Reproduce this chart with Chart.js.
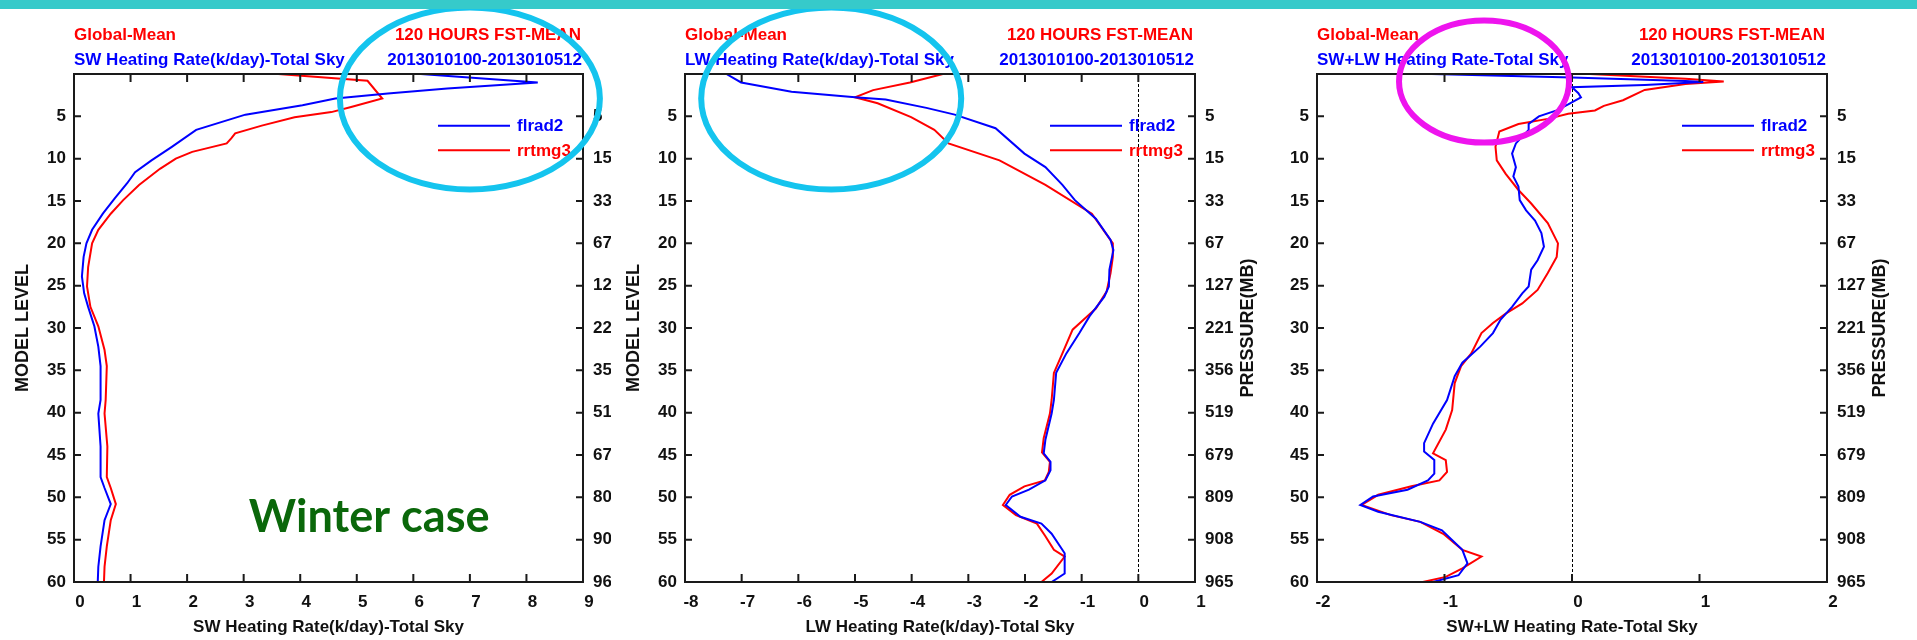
<!DOCTYPE html>
<html>
<head>
<meta charset="utf-8">
<script src="https://cdn.jsdelivr.net/npm/chart.js@4.4.0/dist/chart.umd.min.js"></script>
<style>
  html, body { margin: 0; padding: 0; background: #fff; }
  body { width: 1917px; height: 640px; position: relative; overflow: hidden; }
  canvas { position: absolute; top: 0; background: #fff; }
  #bar { position: absolute; left: 0; top: 0; width: 1917px; height: 9px; background: #36caca; z-index: 5; }
</style>
</head>
<body>
<div id="bar"></div>
<canvas id="sw" width="611" height="640" style="left:0px"></canvas>
<canvas id="lw" width="646" height="640" style="left:611px"></canvas>
<canvas id="net" width="660" height="640" style="left:1257px"></canvas>
<script>
// model levels shown on the left axis and the matching pressure (mb) on the right axis
const levelTicks = [5, 10, 15, 20, 25, 30, 35, 40, 45, 50, 55, 60];
const pressureLabels = ['5', '15', '33', '67', '127', '221', '356', '519', '679', '809', '908', '965'];

// SW heating rate (K/day)
const swFlrad2Lev = [0, 1.0, 1.7, 2.3, 2.9, 3.7, 4.8, 6.6, 8.6, 10.2, 11.6, 12.9, 14.7, 16.5, 18.4, 20.0, 21.6, 23.9, 25.9, 27.5, 29.8, 32.2, 34.5, 38.5, 40.1, 44.0, 47.6, 48.9, 50.8, 52.7, 55.8, 58.2, 60];
const swFlrad2 = [6.13, 8.2, 6.6, 5.55, 4.62, 4.04, 3.03, 2.16, 1.73, 1.37, 1.08, 0.94, 0.72, 0.51, 0.32, 0.22, 0.17, 0.14, 0.18, 0.25, 0.36, 0.43, 0.47, 0.47, 0.43, 0.47, 0.47, 0.54, 0.65, 0.54, 0.47, 0.43, 0.42];
const swRrtmg3Lev = [0, 0.8, 2.9, 3.9, 4.5, 5.1, 6.1, 7.0, 7.6, 8.2, 9.2, 10.0, 11.2, 13.1, 14.9, 16.5, 18.4, 20.0, 22.8, 25.1, 27.5, 29.8, 32.6, 34.5, 38.5, 40.1, 44.0, 47.6, 48.9, 50.8, 52.7, 55.8, 58.2, 60];
const swRrtmg3 = [3.61, 5.19, 5.45, 4.9, 4.55, 3.9, 3.32, 2.85, 2.78, 2.7, 2.09, 1.8, 1.52, 1.15, 0.87, 0.65, 0.43, 0.32, 0.25, 0.23, 0.29, 0.43, 0.54, 0.58, 0.56, 0.54, 0.59, 0.58, 0.65, 0.74, 0.65, 0.58, 0.54, 0.53];

// LW heating rate (K/day)
const lwFlrad2Lev = [0, 1.0, 2.1, 2.75, 3.0, 4.0, 4.8, 6.4, 9.4, 11.0, 13.1, 14.9, 17.1, 19.6, 20.8, 23.1, 25.1, 26.3, 28.6, 30.6, 33.0, 35.3, 38.5, 40.1, 43.2, 44.8, 45.8, 46.8, 48.0, 49.1, 49.9, 50.9, 52.3, 53.1, 54.3, 56.6, 59.0, 60];
const lwFlrad2 = [-7.27, -7.01, -6.12, -5.0, -4.46, -3.74, -3.24, -2.52, -2.01, -1.64, -1.34, -1.12, -0.75, -0.49, -0.44, -0.51, -0.52, -0.6, -0.86, -1.04, -1.27, -1.45, -1.49, -1.53, -1.64, -1.67, -1.55, -1.55, -1.64, -1.93, -2.23, -2.34, -2.08, -1.71, -1.53, -1.30, -1.30, -1.53];
const lwRrtmg3Lev = [0, 1.0, 1.9, 2.75, 3.45, 5.1, 6.6, 8.2, 10.2, 13.1, 16.5, 20.0, 21.6, 23.5, 25.7, 27.7, 28.6, 30.2, 33.0, 35.3, 38.5, 40.1, 43.0, 44.7, 45.8, 47.0, 48.0, 48.7, 49.7, 50.9, 52.1, 53.1, 54.6, 56.2, 57.0, 59.0, 60];
const lwRrtmg3 = [-3.45, -4.03, -4.68, -5.0, -4.6, -4.01, -3.6, -3.35, -2.45, -1.64, -0.82, -0.45, -0.45, -0.49, -0.56, -0.75, -0.9, -1.16, -1.34, -1.49, -1.53, -1.56, -1.67, -1.70, -1.56, -1.58, -1.65, -2.01, -2.27, -2.39, -2.16, -1.79, -1.64, -1.49, -1.30, -1.53, -1.71];

// SW+LW heating rate
const netFlrad2Lev = [0, 0.4, 0.82, 0.94, 1.29, 1.57, 2.27, 2.75, 3.6, 4.3, 5.0, 5.9, 6.6, 7.4, 8.2, 9.4, 11.0, 12.1, 13.3, 14.9, 16.1, 17.3, 18.8, 20.4, 22.0, 23.1, 25.1, 25.9, 27.5, 29.0, 30.6, 32.2, 34.1, 35.7, 38.5, 41.3, 43.6, 44.6, 45.6, 47.2, 48.0, 49.1, 49.9, 50.9, 51.7, 52.9, 53.9, 56.2, 57.8, 59.2, 60];
const netFlrad2 = [-1.10, 0.0, 0.89, 1.03, 0.57, 0.0, 0.05, 0.07, -0.03, -0.12, -0.26, -0.34, -0.34, -0.39, -0.44, -0.47, -0.44, -0.46, -0.42, -0.41, -0.36, -0.29, -0.24, -0.22, -0.27, -0.32, -0.34, -0.39, -0.47, -0.56, -0.62, -0.72, -0.86, -0.92, -0.98, -1.09, -1.16, -1.16, -1.08, -1.08, -1.13, -1.29, -1.56, -1.66, -1.52, -1.19, -1.02, -0.86, -0.82, -0.89, -1.09];
const netRrtmg3Lev = [0, 0.55, 0.9, 1.18, 1.88, 3.1, 3.76, 4.3, 4.7, 5.3, 5.9, 6.8, 8.6, 10.2, 11.8, 13.7, 15.3, 17.6, 20.0, 21.6, 23.5, 25.5, 27.1, 28.3, 29.4, 30.6, 33.0, 34.5, 36.5, 39.7, 42.0, 44.8, 45.6, 47.0, 48.0, 48.7, 49.7, 50.9, 52.1, 52.9, 54.3, 56.2, 57.0, 58.4, 59.4, 60];
const netRrtmg3 = [0.14, 0.89, 1.19, 0.89, 0.57, 0.40, 0.25, 0.18, -0.03, -0.19, -0.42, -0.57, -0.60, -0.59, -0.52, -0.42, -0.32, -0.19, -0.11, -0.12, -0.19, -0.27, -0.39, -0.52, -0.62, -0.71, -0.79, -0.87, -0.92, -0.94, -0.99, -1.09, -0.99, -0.98, -1.04, -1.26, -1.52, -1.65, -1.42, -1.19, -1.01, -0.86, -0.71, -0.86, -0.99, -1.17];

const seriesNames = ['flrad2', 'rrtmg3'];
const legendLevels = [6.1, 9.0];

const FONT = '"Liberation Sans", Arial, Helvetica, sans-serif';
const BLUE = '#0000ff';
const RED = '#ff0000';
const CYAN = '#14c4ee';
const MAGENTA = '#ee14ee';

function toPoints(vals, levs) {
  return vals.map((v, i) => ({ x: v, y: levs[i] }));
}

// axis box, inward ticks, titles, legend and the marked-up circles
function makeFrame(p) {
  return {
    id: 'frame',
    beforeDatasetsDraw(chart) {
      if (!p.zeroLine) return;
      const { ctx, chartArea: a, scales: { x } } = chart;
      const px = Math.round(x.getPixelForValue(0)) + 0.5;
      ctx.save();
      ctx.strokeStyle = '#000';
      ctx.lineWidth = 1;
      ctx.setLineDash([3, 2]);
      ctx.beginPath();
      ctx.moveTo(px, a.top);
      ctx.lineTo(px, a.bottom);
      ctx.stroke();
      ctx.restore();
    },
    afterDatasetsDraw(chart) {
      const { ctx, chartArea: a, scales: { x, y } } = chart;
      ctx.save();
      ctx.strokeStyle = '#1a1a1a';
      ctx.lineWidth = 2;
      ctx.strokeRect(a.left, a.top, a.right - a.left, a.bottom - a.top);
      ctx.beginPath();
      x.ticks.forEach((t, i) => {
        if (t.value <= x.min || t.value >= x.max) return;
        const px = x.getPixelForTick(i);
        ctx.moveTo(px, a.bottom); ctx.lineTo(px, a.bottom - 8);
        ctx.moveTo(px, a.top); ctx.lineTo(px, a.top + 8);
      });
      y.ticks.forEach((t, i) => {
        if (t.value <= y.min || t.value >= y.max) return;
        const py = y.getPixelForTick(i);
        ctx.moveTo(a.left, py); ctx.lineTo(a.left + 7, py);
        ctx.moveTo(a.right, py); ctx.lineTo(a.right - 7, py);
      });
      ctx.stroke();

      // legend
      ctx.font = 'bold 17px ' + FONT;
      ctx.textAlign = 'left';
      ctx.textBaseline = 'middle';
      chart.data.datasets.forEach((ds, i) => {
        const ly = y.getPixelForValue(legendLevels[i]);
        ctx.strokeStyle = ds.borderColor;
        ctx.lineWidth = 2;
        ctx.beginPath();
        ctx.moveTo(a.right - 145, ly);
        ctx.lineTo(a.right - 73, ly);
        ctx.stroke();
        ctx.fillStyle = ds.borderColor;
        ctx.fillText(ds.label, a.right - 66, ly + 1);
      });
      ctx.restore();
    },
    afterDraw(chart) {
      const { ctx, chartArea: a, scales: { x, y } } = chart;
      ctx.save();
      ctx.font = 'bold 17px ' + FONT;
      ctx.textBaseline = 'alphabetic';
      ctx.fillStyle = RED;
      ctx.textAlign = 'left';
      ctx.fillText('Global-Mean', a.left, 40);
      ctx.textAlign = 'right';
      ctx.fillText('120 HOURS FST-MEAN', a.right - 2, 40);
      ctx.fillStyle = BLUE;
      ctx.textAlign = 'left';
      ctx.fillText(p.header, a.left, 65);
      ctx.textAlign = 'right';
      ctx.fillText('2013010100-2013010512', a.right - 1, 65);

      ctx.fillStyle = '#111';
      ctx.textAlign = 'center';
      ctx.fillText(p.xTitle, (a.left + a.right) / 2, 632);

      ctx.font = 'bold 18px ' + FONT;
      ctx.textBaseline = 'middle';
      const midY = (a.top + a.bottom) / 2;
      if (p.leftTitle) {
        ctx.save();
        ctx.translate(a.left - 51, midY);
        ctx.rotate(-Math.PI / 2);
        ctx.fillText('MODEL LEVEL', 0, 0);
        ctx.restore();
      }
      ctx.save();
      ctx.translate(a.right + 53, midY);
      ctx.rotate(-Math.PI / 2);
      ctx.fillText('PRESSURE(MB)', 0, 0);
      ctx.restore();

      if (p.note) {
        const n = p.note;
        ctx.font = 'bold 100px Lato, "Open Sans", sans-serif';
        const size = 100 * n.width / ctx.measureText(n.text).width;
        ctx.font = 'bold ' + size.toFixed(1) + 'px Lato, "Open Sans", sans-serif';
        ctx.fillStyle = n.color;
        ctx.textAlign = 'center';
        ctx.textBaseline = 'alphabetic';
        ctx.fillText(n.text, x.getPixelForValue(n.x), y.getPixelForValue(n.y));
      }

      (p.rings || []).forEach(r => {
        ctx.strokeStyle = r.color;
        ctx.lineWidth = 6;
        ctx.beginPath();
        ctx.ellipse(x.getPixelForValue(r.x), y.getPixelForValue(r.y), r.rx, r.ry, 0, 0, Math.PI * 2);
        ctx.stroke();
      });
      ctx.restore();
    }
  };
}

function makePanel(id, p) {
  const tickFont = { family: FONT, size: 17, weight: 'bold' };
  const line = (label, color, vals, levs) => ({
    label: label,
    data: toPoints(vals, levs),
    showLine: true,
    borderColor: color,
    backgroundColor: color,
    borderWidth: 2,
    pointRadius: 0,
    tension: 0
  });
  return new Chart(document.getElementById(id), {
    type: 'scatter',
    data: {
      datasets: [
        line(seriesNames[0], BLUE, p.blue, p.blueLev),
        line(seriesNames[1], RED, p.red, p.redLev)
      ]
    },
    options: {
      responsive: false,
      animation: false,
      devicePixelRatio: 1,
      layout: { padding: { top: 74, left: 0, right: 0, bottom: 0 } },
      plugins: { legend: { display: false }, tooltip: { enabled: false } },
      scales: {
        x: {
          type: 'linear', position: 'bottom', min: p.xMin, max: p.xMax,
          grid: { display: false, drawTicks: false }, border: { display: false },
          ticks: { stepSize: 1, padding: 10, labelOffset: 6, color: '#111', font: tickFont, autoSkip: false, maxRotation: 0 },
          afterFit: s => { s.height = 58; }
        },
        y: {
          type: 'linear', position: 'left', reverse: true, min: 0, max: 60,
          grid: { display: false, drawTicks: false }, border: { display: false },
          ticks: { stepSize: 5, padding: 8, color: '#111', font: tickFont, autoSkip: false,
                   callback: v => (levelTicks.includes(v) ? String(v) : '') },
          afterFit: s => { s.width = p.leftW; }
        },
        y2: {
          type: 'linear', position: 'right', reverse: true, min: 0, max: 60,
          grid: { display: false, drawTicks: false }, border: { display: false },
          ticks: { stepSize: 5, padding: 10, color: '#111', font: tickFont, autoSkip: false,
                   callback: v => { const k = levelTicks.indexOf(v); return k < 0 ? '' : pressureLabels[k]; } },
          afterFit: s => { s.width = p.rightW; }
        }
      }
    },
    plugins: [makeFrame(p)]
  });
}

makePanel('sw', {
  xMin: 0, xMax: 9, leftW: 74, rightW: 28,
  blue: swFlrad2, blueLev: swFlrad2Lev, red: swRrtmg3, redLev: swRrtmg3Lev,
  header: 'SW Heating Rate(k/day)-Total Sky',
  xTitle: 'SW Heating Rate(k/day)-Total Sky',
  leftTitle: true, zeroLine: false,
  note: { text: 'Winter case', x: 5.22, y: 54.1, width: 241, color: '#0a670a' },
  rings: [{ x: 7.0, y: 2.9, rx: 130, ry: 91, color: CYAN }]
});

makePanel('lw', {
  xMin: -8, xMax: 1, leftW: 74, rightW: 62,
  blue: lwFlrad2, blueLev: lwFlrad2Lev, red: lwRrtmg3, redLev: lwRrtmg3Lev,
  header: 'LW Heating Rate(k/day)-Total Sky',
  xTitle: 'LW Heating Rate(k/day)-Total Sky',
  leftTitle: true, zeroLine: true,
  rings: [{ x: -5.42, y: 2.9, rx: 130, ry: 91, color: CYAN }]
});

makePanel('net', {
  xMin: -2, xMax: 2, leftW: 60, rightW: 90,
  blue: netFlrad2, blueLev: netFlrad2Lev, red: netRrtmg3, redLev: netRrtmg3Lev,
  header: 'SW+LW Heating Rate-Total Sky',
  xTitle: 'SW+LW Heating Rate-Total Sky',
  leftTitle: false, zeroLine: true,
  rings: [{ x: -0.69, y: 0.9, rx: 85, ry: 61, color: MAGENTA }]
});
</script>
</body>
</html>
